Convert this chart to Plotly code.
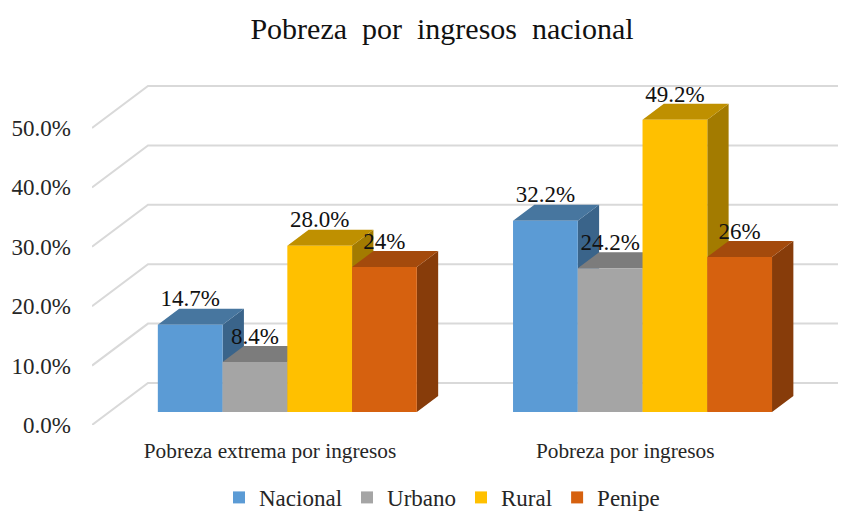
import plotly.graph_objects as go

categories = ["Pobreza extrema por ingresos", "Pobreza por ingresos"]
series_names = ["Nacional", "Urbano", "Rural", "Penipe"]
nacional = [14.7, 32.2]
urbano = [8.4, 24.2]
rural = [28.0, 49.2]
penipe = [24.4, 26.1]
nacional_labels = ["14.7%", "32.2%"]
urbano_labels = ["8.4%", "24.2%"]
rural_labels = ["28.0%", "49.2%"]
penipe_labels = ["24%", "26%"]
y_ticks = [0, 10, 20, 30, 40, 50]
y_tick_labels = ["0.0%", "10.0%", "20.0%", "30.0%", "40.0%", "50.0%"]

series_values = [nacional, urbano, rural, penipe]
series_labels = [nacional_labels, urbano_labels, rural_labels, penipe_labels]
front_colors = ["#5B9BD5", "#A5A5A5", "#FFC000", "#D6610F"]
top_colors = ["#47769F", "#7C7C7C", "#BF9000", "#A44A0C"]
side_colors = ["#3A648A", "#636363", "#A37B00", "#873C0A"]

FONT = "Liberation Serif"
# the page body adds an 8px margin, so the figure is 8px smaller each way
W, H = 838, 506
PLOT_L, PLOT_T, PLOT_B = 84, 53, 417
PX_PER_CAT = 355.2
PX_PER_PCT = 5.94
CAT0_PX = 262.0
X_RANGE = [(PLOT_L - CAT0_PX) / PX_PER_CAT, (W - CAT0_PX) / PX_PER_CAT]
Y_RANGE = [0, (PLOT_B - PLOT_T) / PX_PER_PCT]

DEPTH_X = 56 / PX_PER_CAT      # wall depth, in axis units
DEPTH_Y = 42 / PX_PER_PCT
FLOOR_D = 13 / 42              # depth fraction at which the bar fronts stand
BAR_D = 16 / 42                # depth fraction of each bar
BAR_W = 64.75 / PX_PER_CAT
LABEL_LIFT = 24 / PX_PER_PCT

fig = go.Figure()

# bar fronts (overlay subplot, so they paint above all the side and top faces)
base = FLOOR_D * DEPTH_Y
x_shift = FLOOR_D * DEPTH_X
for i, name in enumerate(series_names):
    xs = [c + x_shift + (i - 1.5) * BAR_W for c in range(len(categories))]
    fig.add_trace(go.Bar(
        x=xs, y=series_values[i], base=base, width=BAR_W, name=name,
        marker=dict(color=front_colors[i], line=dict(width=0)),
        xaxis="x2", yaxis="y2", showlegend=True, hoverinfo="skip",
    ))

# receding gridlines on the walls
for t in y_ticks:
    gx = [X_RANGE[0], X_RANGE[0] + DEPTH_X, X_RANGE[1] + DEPTH_X]
    gy = [t, t + DEPTH_Y, t + DEPTH_Y]
    fig.add_trace(go.Scatter(
        x=gx, y=gy, mode="lines", line=dict(color="#D9D9D9", width=2),
        showlegend=False, hoverinfo="skip", xaxis="x", yaxis="y",
    ))

# side and top faces, painted left to right
dx, dy = BAR_D * DEPTH_X, BAR_D * DEPTH_Y
for i, name in enumerate(series_names):
    side_x, side_y, top_x, top_y = [], [], [], []
    for c, v in enumerate(series_values[i]):
        left = c + x_shift + (i - 2) * BAR_W
        right = left + BAR_W
        top = base + v
        side_x += [right, right + dx, right + dx, right, right, None]
        side_y += [base, base + dy, top + dy, top, base, None]
        top_x += [left, right, right + dx, left + dx, left, None]
        top_y += [top, top, top + dy, top + dy, top, None]
    for fx, fy, col in ((side_x, side_y, side_colors[i]), (top_x, top_y, top_colors[i])):
        fig.add_trace(go.Scatter(
            x=fx, y=fy, mode="lines", fill="toself", fillcolor=col,
            line=dict(width=0, color=col), showlegend=False, hoverinfo="skip",
            xaxis="x", yaxis="y",
        ))

# data labels
for i, name in enumerate(series_names):
    xs = [c + x_shift + (i - 1.5) * BAR_W for c in range(len(categories))]
    ys = [base + v + LABEL_LIFT for v in series_values[i]]
    fig.add_trace(go.Scatter(
        x=xs, y=ys, mode="text", text=series_labels[i], textposition="middle center",
        textfont=dict(family=FONT, size=23, color="#111111"),
        showlegend=False, hoverinfo="skip", xaxis="x2", yaxis="y2",
    ))

fig.update_layout(
    width=W, height=H,
    margin=dict(l=PLOT_L, r=0, t=PLOT_T, b=H - PLOT_B, autoexpand=False),
    paper_bgcolor="white", plot_bgcolor="white",
    barmode="overlay",
    title=dict(
        text="Pobreza  por  ingresos  nacional",
        font=dict(family=FONT, size=30, color="#111111"),
        x=434 / W, xanchor="center", xref="container",
        y=1 - 20 / H, yanchor="middle",
    ),
    xaxis=dict(
        range=X_RANGE, tickmode="array", tickvals=[0, 1], ticktext=categories,
        showgrid=False, zeroline=False, showline=False, ticks="",
        tickfont=dict(family=FONT, size=21.3, color="#262626"),
        ticklabelstandoff=11,
    ),
    yaxis=dict(
        range=Y_RANGE, tickmode="array", tickvals=y_ticks, ticktext=y_tick_labels,
        showgrid=False, zeroline=False, showline=False, ticks="",
        tickfont=dict(family=FONT, size=23, color="#262626"),
        ticklabelstandoff=20,
    ),
    xaxis2=dict(overlaying="x", matches="x", visible=False),
    yaxis2=dict(overlaying="y", matches="y", visible=False),
    legend=dict(
        orientation="h", x=(434 - PLOT_L) / (W - PLOT_L),
        xanchor="center", y=-0.14, yanchor="top",
        font=dict(family=FONT, size=23, color="#262626"),
        bgcolor="rgba(0,0,0,0)", traceorder="normal",
    ),
    showlegend=True,
)

fig.write_html("out.html")
